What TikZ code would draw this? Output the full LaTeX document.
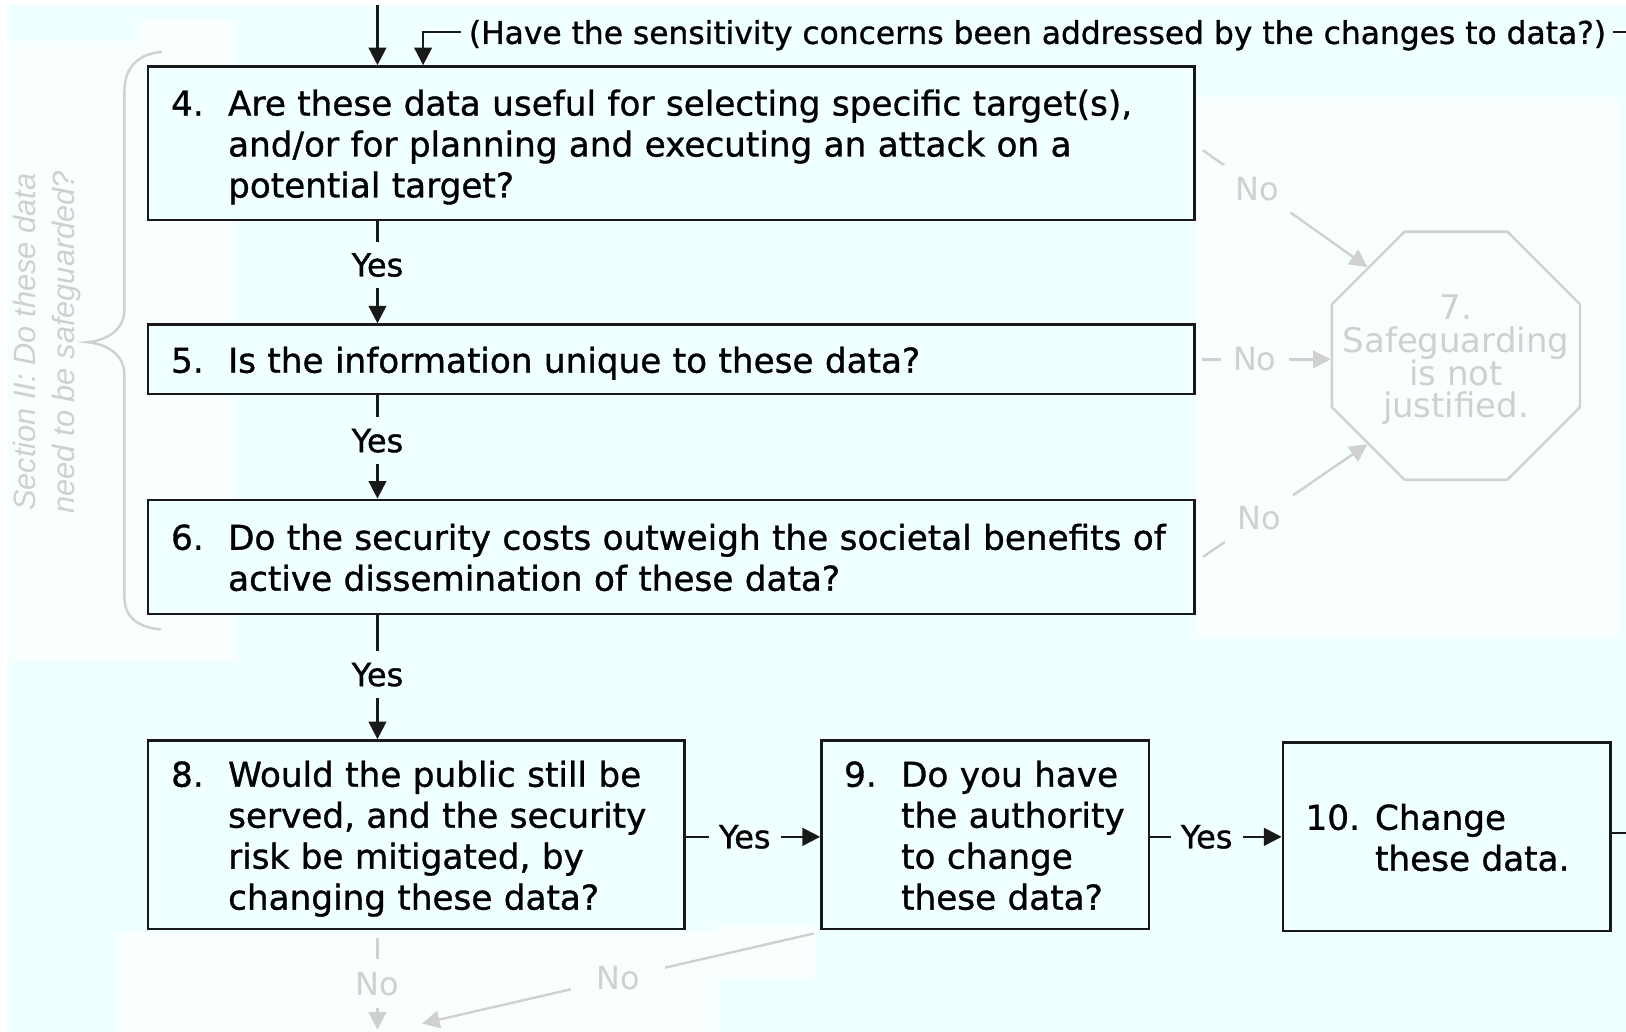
\documentclass[tikz,border=0pt]{standalone}
\usepackage{fontspec}
\setmainfont{DejaVu Sans}
\newfontfamily\qfam{DejaVu Sans}[FakeBold=1.0]
\newfontfamily\secfont{Liberation Sans}
\usepackage{tikz}
\usetikzlibrary{arrows.meta,shapes.geometric,positioning,calc}

\definecolor{bgazure}{RGB}{240,255,255}
\definecolor{patchwhite}{RGB}{249,254,255}
\definecolor{fadegray}{RGB}{208,208,208}
\definecolor{inkblack}{RGB}{25,25,25}

\newcommand{\qfont}{\qfam\fontsize{33}{39.5}\selectfont}
\newcommand{\lfont}{\qfam\fontsize{30.8}{36}\selectfont}
\newcommand{\nfont}{\fontsize{30.8}{36}\selectfont}
\newcommand{\numq}[3][55pt]{\raisebox{-5pt}[\height][\depth]{\makebox[#1][l]{#2}\begin{tabular}[t]{@{}l@{}}#3\end{tabular}}}

\begin{document}
\begin{tikzpicture}[
            x=1pt,
            y=-1pt,
            qbox/.style={
                draw=inkblack,
                line width=2.3pt,
                fill=bgazure,
                align=left,
                inner xsep=22pt,
                inner ysep=0pt,
                font=\qfont
            },
            stopsign/.style={
                regular polygon,
                regular polygon sides=8,
                draw=fadegray,
                line width=2.3pt,
                minimum size=259pt,
                inner sep=0pt
            },
            stoptext/.style={
                align=center,
                text=fadegray,
                font={\fontsize{32.7}{31.5}\selectfont\lineskiplimit=-50pt}
            },
            arr/.style={
                draw=inkblack,
                line width=2.3pt,
                -{Triangle[length=17pt,width=17pt]}
            },
            noarr/.style={
                draw=fadegray,
                line width=2.3pt,
                -{Triangle[length=17pt,width=17pt]}
            },
            yeslab/.style={
                font=\lfont,
                fill=bgazure,
                inner xsep=10pt,
                inner ysep=11pt
            },
            nolab/.style={
                font=\nfont,
                text=fadegray,
                fill=patchwhite,
                inner sep=12pt
            }
        ]

            % Background and lighter patches
            \fill[white] (0,0) rectangle (1568,995);
            \fill[bgazure] (8,5) rectangle (1568,995);
            \fill[patchwhite] (8,40) -- (133,40) -- (133,19) -- (227,19) -- (227,638) -- (8,638) -- cycle;
            \fill[patchwhite] (1152,94) rectangle (1561,615);
            \fill[patchwhite] (112,899) rectangle (692,995);
            \fill[patchwhite] (690,892) rectangle (786,944);
            \useasboundingbox (0,0) rectangle (1568,995);

            % Section brace
            \draw[fadegray, line width=2.3pt] (156,50) .. controls (134,52) and (120,64) .. (120,88)
                -- (120,298) .. controls (120,318) and (104,328) .. (84,330)
                .. controls (104,332) and (120,342) .. (120,362)
                -- (120,576) .. controls (120,596) and (134,605) .. (155,607);
            \node[rotate=90, align=center, text=fadegray,
                  font={\secfont\itshape\fontsize{29.7}{37}\selectfont}] (sectitle) at (45.5,330)
                {Section II: Do these data\\need to be safeguarded?};

            % Questions
            \node[qbox, text width=965pt, minimum height=148pt] (q4) at (647.5,138)
                {\numq{4.}{Are these data useful for selecting specific target(s),\\and/or for planning and executing an attack on a\\potential target?}};
            \node[qbox, text width=965pt, minimum height=67pt] (q5) at (647.5,346.5)
                {\numq{5.}{Is the information unique to these data?}};
            \node[qbox, text width=965pt, minimum height=110pt] (q6) at (647.5,537)
                {\numq{6.}{Do the security costs outweigh the societal benefits of\\active dissemination of these data?}};
            \node[qbox, text width=473pt, minimum height=182pt] (q8) at (401.5,805)
                {\numq{8.}{Would the public still be\\served, and the security\\risk be mitigated, by\\changing these data?}};
            \node[qbox, text width=272pt, minimum height=182pt] (q9) at (950,805)
                {\numq{9.}{Do you have\\the authority\\to change\\these data?}};
            \node[qbox, text width=272pt, minimum height=182pt] (q10) at (1395,807)
                {\numq[67pt]{10.}{Change\\these data.}};

            % Stop sign
            \node[stopsign] (q7) at (1404,343) {};
            \node[stoptext] (q7text) at (1404,347) {7.\\Safeguarding\\is not\\justified.};

            % Incoming arrows at the top
            \coordinate (spine) at (364,5);
            \coordinate (fbdrop) at (408,31);
            \coordinate (fbright) at (1568,31);
            \node[font={\qfam\fontsize{30.2}{36}\selectfont}, fill=bgazure, inner xsep=7pt, inner ysep=4pt, anchor=west] (fbnote) at (445,34)
                {(Have the sensitivity concerns been addressed by the changes to data?)};
            \draw[arr] (spine) -- (q4.north -| spine);
            \draw[draw=inkblack, line width=2.3pt] (fbright) -- (fbnote.east |- fbright);
            \draw[arr] (fbnote.west |- fbdrop) -- (fbdrop) -- (q4.north -| fbdrop);

            % Yes connectors
            \draw[arr] (q4.south -| spine) -- node[yeslab, pos=0.43] {Yes} (q5.north -| spine);
            \draw[arr] (q5.south -| spine) -- node[yeslab, pos=0.44] {Yes} (q6.north -| spine);
            \draw[arr] (q6.south -| spine) -- node[yeslab, pos=0.48] {Yes} (q8.north -| spine);
            \draw[arr] ([yshift=-2pt]q8.east) -- node[yeslab, pos=0.44] {Yes} ([yshift=-2pt]q9.west);
            \draw[arr] ([yshift=-2pt]q9.east) -- node[yeslab, pos=0.43] {Yes} ([yshift=-2pt]q9.east -| q10.west);
            \coordinate (exitright) at (1568,803);
            \draw[draw=inkblack, line width=2.3pt] (q10.east |- exitright) -- (exitright);

            % No connectors
            \draw[noarr] ([shift={(7pt,-7pt)}]q4.east) -- node[nolab, pos=0.33] {No} (q7.135);
            \draw[noarr] ([xshift=6pt]q5.east) -- node[nolab, pos=0.41] {No} (q5.east -| q7.west);
            \draw[noarr] ([xshift=7pt]q6.east) -- node[nolab, pos=0.34] {No} (q7.225);
            \coordinate (downA) at (364,993);
            \coordinate (downB) at (407,987);
            \draw[noarr] ($(q8.south -| spine)+(0,7)$) -- node[nolab] {No} (downA);
            \draw[noarr] ($(q9.south west)+(-6,3)$) -- node[nolab, inner xsep=24pt] {No} (downB);

        \end{tikzpicture}
\end{document}
